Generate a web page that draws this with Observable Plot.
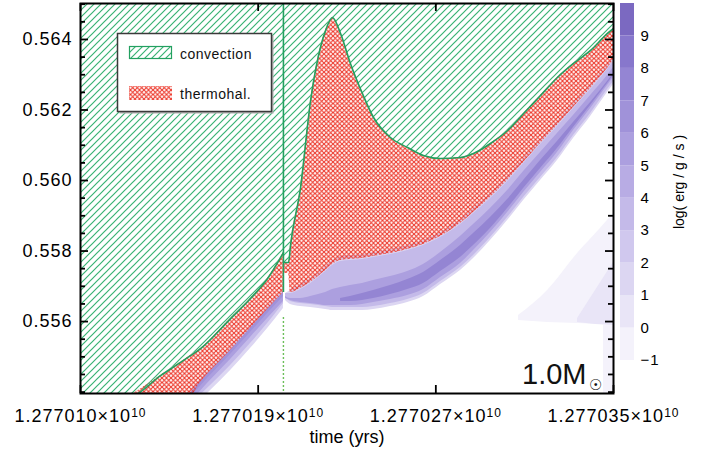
<!DOCTYPE html>
<html><head><meta charset="utf-8">
<script src="https://cdn.jsdelivr.net/npm/d3@7"></script>
<script src="https://cdn.jsdelivr.net/npm/@observablehq/plot@0.6"></script>
<style>
body{margin:0;background:#fff;}
#wrap{position:relative;width:707px;height:450px;font-family:"Liberation Sans",Arial,sans-serif;}
#wrap svg{position:absolute;top:0;}
g[aria-label="y-axis tick label"] text, g[aria-label="x-axis tick label"] text{letter-spacing:1px;}
</style></head><body><div id="wrap"></div>
<script>
// ---------- axes ----------
const xTicks = [1.2770103, 1.2770186, 1.2770269, 1.2770352];
const xTickLabels = ["1.277010", "1.277019", "1.277027", "1.277035"];
const xExponent = "10";
const xLabel = "time (yrs)";
const yDomain = [0.55396, 0.56502];
const yMajor = [0.556, 0.558, 0.560, 0.562, 0.564];
const yTickLabels = ["0.556", "0.558", "0.560", "0.562", "0.564"];
const yMinor = [0.5540, 0.5545, 0.5550, 0.5555, 0.5565, 0.5570, 0.5575, 0.5585, 0.5590, 0.5595, 0.5605, 0.5610, 0.5615, 0.5625, 0.5630, 0.5635, 0.5645, 0.5650];

// ---------- colour bar ----------
const cbLevels = [-1, 0, 1, 2, 3, 4, 5, 6, 7, 8, 9];
const cbTickLabels = ["\u22121", "0", "1", "2", "3", "4", "5", "6", "7", "8", "9"];
const cbColors = ["#f4f2fb", "#e9e5f7", "#dcd6f2", "#d0c8ee", "#c4bae9", "#b8ace4", "#ac9fdf", "#a092d9", "#9485d3", "#8777cc", "#7b69c1"];
const cbTitle = "log( erg / g / s )";

// ---------- convection / thermohaline zones ----------
const convLeftTime = [1.2770103, 1.27701264, 1.27701404, 1.27701544, 1.27701591, 1.27701731, 1.27701824, 1.27701904, 1.27701978];
const convLeftMass = [0.5539, 0.5539, 0.554468, 0.555035, 0.555234, 0.556085, 0.556652, 0.557219, 0.557957];

const thermoLeftTime = [1.27701264, 1.27701404, 1.27701544, 1.27701591, 1.27701731, 1.27701824, 1.27701904, 1.27701978];
const thermoLeftLow  = [0.5539, 0.5539, 0.5539, 0.554269, 0.555177, 0.555801, 0.556340, 0.556822];
const thermoLeftHigh = [0.5539, 0.554468, 0.555035, 0.555234, 0.556085, 0.556652, 0.557219, 0.557957];

const rightTime = [1.27701978, 1.27702002, 1.27702011, 1.27702058, 1.27702105, 1.27702142, 1.27702175, 1.27702207, 1.27702245, 1.27702291, 1.27702347, 1.27702399, 1.27702478, 1.27702558, 1.27702632, 1.27702712, 1.27702805, 1.27702866, 1.27702945, 1.27703025, 1.27703100, 1.27703179, 1.27703258, 1.27703333, 1.27703413, 1.27703492, 1.27703520];
const convRightMass = [0.557673, 0.557673, 0.558156, 0.559801, 0.562269, 0.563546, 0.564255, 0.564624, 0.564170, 0.563319, 0.562468, 0.561787, 0.561220, 0.560936, 0.560709, 0.560624, 0.560652, 0.560766, 0.561049, 0.561418, 0.561900, 0.562411, 0.562922, 0.563319, 0.563688, 0.564170, 0.564312];
const thermoRightLow = [0.557361, 0.557361, 0.556822, 0.556936, 0.557106, 0.557276, 0.557446, 0.557617, 0.557730, 0.557758, 0.557787, 0.557844, 0.557929, 0.558042, 0.558184, 0.558411, 0.558780, 0.559092, 0.559517, 0.559999, 0.560510, 0.561049, 0.561560, 0.562071, 0.562610, 0.563177, 0.563404];

const vLineTime = 1.27701978;
const vLineSolid = [0.5652, 0.556822];
const vLineDotted = [0.556113, 0.5539];

// ---------- energy generation (log erg/g/s) ----------
const heatRightTime = [1.27701988, 1.27702011, 1.27702058, 1.27702105, 1.27702142, 1.27702175, 1.27702207, 1.27702245, 1.27702291, 1.27702347, 1.27702399, 1.27702478, 1.27702558, 1.27702632, 1.27702712, 1.27702805, 1.27702866, 1.27702945, 1.27703025, 1.27703100, 1.27703179, 1.27703258, 1.27703333, 1.27703413, 1.27703492, 1.27703520];
const heatR1Top = [0.556794, 0.556879, 0.557049, 0.557219, 0.557390, 0.557560, 0.557730, 0.557844, 0.557872, 0.557900, 0.557957, 0.558042, 0.558156, 0.558297, 0.558524, 0.558893, 0.559205, 0.559631, 0.560113, 0.560624, 0.561163, 0.561673, 0.562184, 0.562723, 0.563290, 0.563517];
const heatR1Bot = [0.556595, 0.556482, 0.556425, 0.556397, 0.556368, 0.556340, 0.556312, 0.556312, 0.556312, 0.556312, 0.556340, 0.556425, 0.556539, 0.556709, 0.557049, 0.557446, 0.557787, 0.558297, 0.558865, 0.559432, 0.559999, 0.560567, 0.561191, 0.561815, 0.562496, 0.562723];
const heatR3Top = [0.556794, 0.556794, 0.556907, 0.557078, 0.557248, 0.557418, 0.557588, 0.557702, 0.557730, 0.557758, 0.557815, 0.557900, 0.558014, 0.558156, 0.558383, 0.558751, 0.559063, 0.559489, 0.559971, 0.560482, 0.561021, 0.561532, 0.562042, 0.562581, 0.563149, 0.563376];
const heatR3Bot = [0.556680, 0.556567, 0.556510, 0.556482, 0.556453, 0.556425, 0.556397, 0.556397, 0.556397, 0.556397, 0.556425, 0.556510, 0.556624, 0.556794, 0.557134, 0.557532, 0.557872, 0.558383, 0.558950, 0.559517, 0.560085, 0.560652, 0.561276, 0.561900, 0.562581, 0.562808];
const heatR5Top = [0.556709, 0.556652, 0.556652, 0.556709, 0.556766, 0.556822, 0.556907, 0.556964, 0.557021, 0.557078, 0.557163, 0.557276, 0.557418, 0.557617, 0.557957, 0.558411, 0.558751, 0.559205, 0.559716, 0.560255, 0.560794, 0.561333, 0.561844, 0.562411, 0.562978, 0.563205];
const heatR5Bot = [0.556652, 0.556595, 0.556539, 0.556510, 0.556482, 0.556453, 0.556453, 0.556453, 0.556453, 0.556482, 0.556539, 0.556624, 0.556737, 0.556907, 0.557248, 0.557645, 0.558014, 0.558524, 0.559092, 0.559659, 0.560227, 0.560794, 0.561418, 0.562042, 0.562695, 0.562922];
const heatCoreTime = [1.27702245, 1.27702291, 1.27702347, 1.27702399, 1.27702478, 1.27702558, 1.27702632, 1.27702712, 1.27702805, 1.27702866, 1.27702945, 1.27703025, 1.27703100, 1.27703179, 1.27703258, 1.27703333, 1.27703413, 1.27703492, 1.27703520];
const heatR7Top = [0.556652, 0.556709, 0.556794, 0.556879, 0.557021, 0.557191, 0.557390, 0.557730, 0.558156, 0.558496, 0.558950, 0.559461, 0.559999, 0.560567, 0.561106, 0.561645, 0.562212, 0.562808, 0.563035];
const heatR7Bot = [0.556567, 0.556567, 0.556595, 0.556652, 0.556766, 0.556907, 0.557078, 0.557418, 0.557815, 0.558156, 0.558638, 0.559205, 0.559773, 0.560340, 0.560907, 0.561503, 0.562127, 0.562751, 0.562978];

const heatLeftTime = [1.27701535, 1.27701623, 1.27701731, 1.27701824, 1.27701904, 1.27701978];
const heatL1Top = [0.553985, 0.554581, 0.555262, 0.555886, 0.556425, 0.556907];
const heatL1Bot = [0.553475, 0.553957, 0.554610, 0.555234, 0.555801, 0.556368];
const heatL3Top = [0.553900, 0.554496, 0.555177, 0.555801, 0.556340, 0.556822];
const heatL3Bot = [0.553617, 0.554099, 0.554751, 0.555375, 0.555943, 0.556510];
const heatL5Bot = [0.553645, 0.554241, 0.554922, 0.555546, 0.556085, 0.556567];
const heatL6Bot = [0.553787, 0.554383, 0.555063, 0.555688, 0.556227, 0.556709];

const heatTriTime = [1.27703076, 1.27703212, 1.27703352, 1.27703459, 1.27703520];
const heatTriTop = [0.556170, 0.556879, 0.557929, 0.558638, 0.559063];
const heatTriBot = [0.556028, 0.555971, 0.555943, 0.555914, 0.555886];
const heatTriInTime = [1.27703352, 1.27703436, 1.27703520];
const heatTriInTop = [0.556085, 0.556879, 0.557673];
const heatTriInBot = [0.555971, 0.555914, 0.555886];
const heatStripTime = [1.27703473, 1.27703520];
const heatStripTop = [0.555886, 0.555886];
const heatStripBot = [0.5539, 0.5539];

const legendLabels = ["convection", "thermohal."];
const massLabel = "1.0M";
const massSymbol = "\u2609";

// ---------- build tables ----------
const band = (times, lo, hi, level) => times.map((t, i) => ({t, lo: lo[i], hi: hi[i], level}));
const heatBands = [
  band(heatTriTime, heatTriBot, heatTriTop, -1),
  band(heatStripTime, heatStripBot, heatStripTop, -1),
  band(heatTriInTime, heatTriInBot, heatTriInTop, 0),
  band(heatRightTime, heatR1Bot, heatR1Top, 1),
  band(heatRightTime, heatR3Bot, heatR3Top, 3),
  band(heatRightTime, heatR5Bot, heatR5Top, 5),
  band(heatCoreTime, heatR7Bot, heatR7Top, 7),
  band(heatLeftTime, heatL1Bot, heatL1Top, 1),
  band(heatLeftTime, heatL3Bot, heatL3Top, 3),
  band(heatLeftTime, heatL5Bot, heatL3Top, 5),
  band(heatLeftTime, heatL6Bot, heatL3Top, 6)
];
const thermoLeft = band(thermoLeftTime, thermoLeftLow, thermoLeftHigh, null);
const thermoRight = band(rightTime, thermoRightLow, convRightMass, null);
const convLeft = convLeftTime.map((t, i) => ({t, m: convLeftMass[i]}));
const convRight = rightTime.map((t, i) => ({t, m: convRightMass[i]}));

const FONT = '"Liberation Sans", Arial, sans-serif';
const GREEN = "#38b273", GREENLINE = "#23a060", RED = "#ec3528";
const yTop = yDomain[1] + 0.0002;
const colorScale = {type: "ordinal", domain: cbLevels, range: cbColors};

const W = 707, H = 450, ML = 80, MR = 94, MT = 3, MB = 57;
const FW = W - ML - MR, FH = H - MT - MB;
const tickStyle = {stroke: "#000", strokeWidth: 1.8};

const main = Plot.plot({
  width: W, height: H,
  marginLeft: ML, marginRight: MR, marginTop: MT, marginBottom: MB,
  style: {fontFamily: FONT, fontSize: "18px", color: "#000", background: "#fff"},
  x: {domain: [xTicks[0], xTicks[xTicks.length - 1]], axis: null},
  y: {domain: yDomain, axis: null},
  color: colorScale,
  marks: [
    ...heatBands.map(b => Plot.areaY(b, {x: "t", y1: "lo", y2: "hi", fill: "level", curve: "monotone-x", clip: true})),
    Plot.areaY(thermoLeft, {x: "t", y1: "lo", y2: "hi", fill: "url(#thermoHatch)", curve: "monotone-x", clip: true}),
    Plot.areaY(thermoRight, {x: "t", y1: "lo", y2: "hi", fill: "url(#thermoHatch)", curve: "monotone-x", clip: true}),
    Plot.areaY(convLeft, {x: "t", y1: "m", y2: yTop, fill: "url(#convHatch)", curve: "monotone-x", clip: true}),
    Plot.areaY(convRight, {x: "t", y1: "m", y2: yTop, fill: "url(#convHatch)", curve: "monotone-x", clip: true}),
    Plot.line(convLeft, {x: "t", y: "m", stroke: GREENLINE, strokeWidth: 1.6, curve: "monotone-x", clip: true}),
    Plot.line(convRight, {x: "t", y: "m", stroke: GREENLINE, strokeWidth: 1.6, curve: "monotone-x", clip: true}),
    Plot.ruleX([vLineTime], {y1: vLineSolid[0], y2: vLineSolid[1], stroke: GREENLINE, strokeWidth: 1.6, clip: true}),
    Plot.ruleX([vLineTime], {y1: vLineDotted[0], y2: vLineDotted[1], stroke: "#6cbf5a", strokeWidth: 1.4, strokeDasharray: "2,2", clip: true}),
    Plot.frame({stroke: "#000", strokeWidth: 2}),
    // inward ticks on all four sides
    Plot.tickY(yMajor, {y: d => d, insetRight: FW - 8, ...tickStyle}),
    Plot.tickY(yMinor, {y: d => d, insetRight: FW - 5, ...tickStyle}),
    Plot.tickY(yMajor, {y: d => d, insetLeft: FW - 8, ...tickStyle}),
    Plot.tickY(yMinor, {y: d => d, insetLeft: FW - 5, ...tickStyle}),
    Plot.tickX(xTicks, {x: d => d, insetTop: FH - 8, ...tickStyle}),
    Plot.tickX(xTicks, {x: d => d, insetBottom: FH - 8, ...tickStyle}),
    // tick labels
    Plot.axisX(xTicks, {anchor: "bottom", tickSize: 0, tickPadding: 16, fontSize: 18, tickFormat: d => xTickLabels[xTicks.indexOf(d)], label: null}),
    Plot.axisY(yMajor, {anchor: "left", tickSize: 0, tickPadding: 8, fontSize: 18, tickFormat: d => yTickLabels[yMajor.indexOf(d)], label: null}),
    Plot.text([xLabel], {frameAnchor: "bottom", dy: 44, lineAnchor: "middle", fontSize: 18, text: d => d})
  ]
});

const cb = Plot.plot({
  width: 107, height: 450,
  marginLeft: 20, marginRight: 73, marginTop: 3, marginBottom: 90,
  style: {fontFamily: FONT, fontSize: "15px", color: "#000", background: "transparent"},
  x: {domain: [0, 1], axis: null},
  y: {domain: [cbLevels[0], cbLevels[cbLevels.length - 1] + 1], axis: null},
  color: colorScale,
  marks: [
    Plot.rect(cbLevels, {x1: 0, x2: 1, y1: d => d, y2: d => d + 1, fill: d => d}),
    Plot.axisY(cbLevels, {anchor: "right", tickSize: 0, tickPadding: 6, fontSize: 15, tickFormat: d => cbTickLabels[cbLevels.indexOf(d)], label: null})
  ]
});
d3.select(cb).append("text")
  .attr("transform", "translate(84,182) rotate(-90)")
  .attr("text-anchor", "middle").attr("font-family", FONT).attr("font-size", 14)
  .attr("fill", "#000").text(cbTitle);

// ---------- patterns ----------
const svg = d3.select(main);
const defs = svg.insert("defs", ":first-child");
const pc = defs.append("pattern").attr("id", "convHatch").attr("patternUnits", "userSpaceOnUse").attr("width", 7).attr("height", 7);
pc.append("path").attr("d", "M-1,1 l2,-2 M0,7 l7,-7 M6,8 l2,-2").attr("stroke", GREEN).attr("stroke-width", 1.2).attr("fill", "none");
const pt = defs.append("pattern").attr("id", "thermoHatch").attr("patternUnits", "userSpaceOnUse").attr("width", 4.5).attr("height", 4.5);
pt.append("path").attr("d", "M0,0 L4.5,4.5 M4.5,0 L0,4.5").attr("stroke", RED).attr("stroke-width", 1.1).attr("fill", "none");

// superscript exponent on x tick labels
svg.selectAll('g[aria-label="x-axis tick label"] text').each(function () {
  const s = this.textContent;
  if (!s) return;
  const t = d3.select(this);
  t.text(null);
  t.append("tspan").text(s + "\u00d7" + "10");
  t.append("tspan").attr("dy", "-0.45em").attr("font-size", "12px").text(xExponent);
});

// ---------- legend & annotation ----------
const lg = svg.append("g").attr("text-anchor", "start");
lg.append("rect").attr("x", 119.5).attr("y", 35.5).attr("width", 154).attr("height", 78).attr("fill", "#b0b0b0");
lg.append("rect").attr("x", 117.5).attr("y", 33.5).attr("width", 154).attr("height", 78).attr("fill", "#fff").attr("stroke", "#3a3a3a").attr("stroke-width", 1.5);
lg.append("rect").attr("x", 129.5).attr("y", 46.5).attr("width", 42).attr("height", 12).attr("fill", "url(#convHatch)").attr("stroke", GREENLINE).attr("stroke-width", 1.2);
lg.append("rect").attr("x", 129).attr("y", 86).attr("width", 43).attr("height", 14).attr("fill", "url(#thermoHatch)");
lg.selectAll("text.lab").data(legendLabels).join("text")
  .attr("x", 180).attr("y", (d, i) => 59 + i * 40)
  .attr("font-family", FONT).attr("font-size", 14).attr("letter-spacing", "0.5px").attr("fill", "#111").text(d => d);

const ann = svg.append("g").attr("text-anchor", "start").attr("fill", "#111");
ann.append("text").attr("x", 522).attr("y", 384).attr("font-family", FONT).attr("font-size", 29).text(massLabel);
ann.append("text").attr("x", 589).attr("y", 390).attr("font-family", '"DejaVu Sans", sans-serif').attr("font-size", 15).text(massSymbol);

const wrap = document.getElementById("wrap");
main.style.left = "0px";
cb.style.left = "600px";
wrap.appendChild(main);
wrap.appendChild(cb);
</script></body></html>
